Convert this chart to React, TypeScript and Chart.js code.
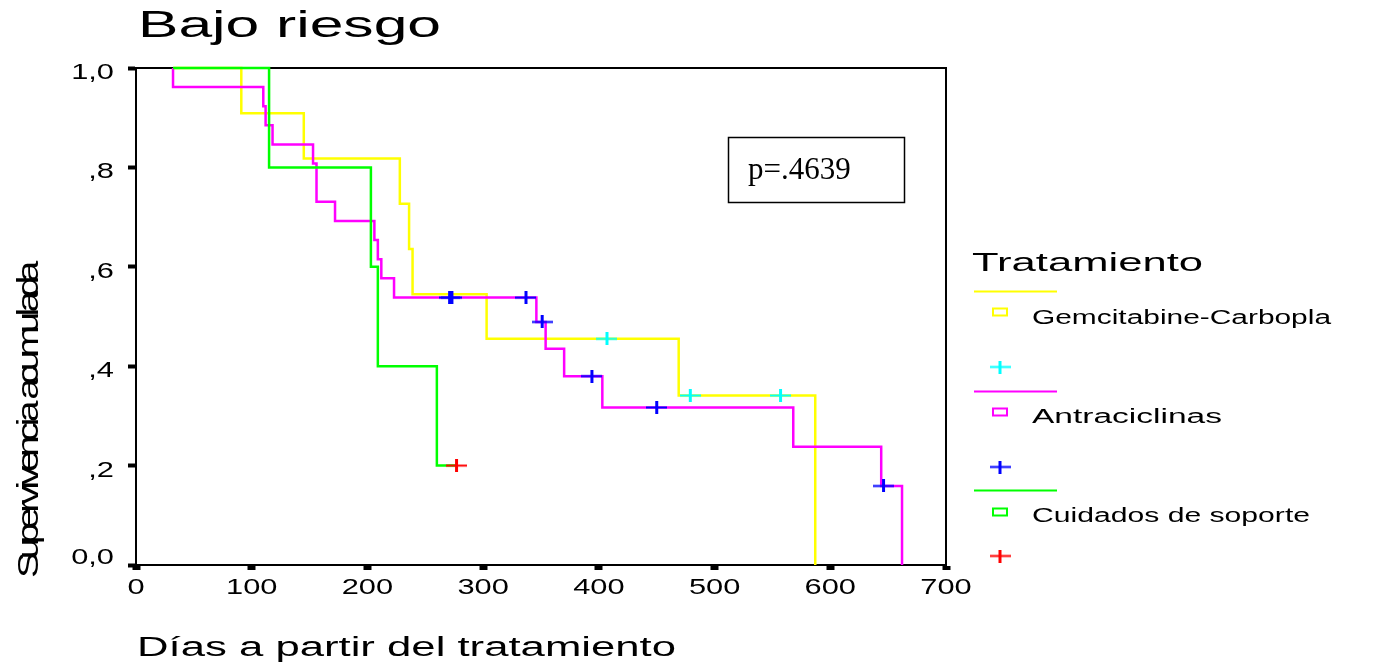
import React, { useEffect, useRef } from "react";
import { Chart, registerables } from "chart.js";

Chart.register(...registerables);

// ---------- texts ----------
const chartTitle = "Bajo riesgo";
const xAxisTitle = "Días a partir del tratamiento";
const yAxisTitle = "Supervivencia acumulada";
const legendTitle = "Tratamiento";
const groupNames = ["Gemcitabine-Carbopla", "Antraciclinas", "Cuidados de soporte"];
const pValueText = "p=.4639";

// ---------- ticks ----------
const xTickValues = [0, 100, 200, 300, 400, 500, 600, 700];
const xTickLabels = ["0", "100", "200", "300", "400", "500", "600", "700"];
const yTickValues = [0, 0.2, 0.4, 0.6, 0.8, 1.0];
const yTickLabels = ["0,0", ",2", ",4", ",6", ",8", "1,0"];

// ---------- Gemcitabine-Carboplatino ----------
const gemTimes = [32, 91, 145, 228, 236, 239, 303, 469, 587];
const gemSurv = [1.0, 0.909, 0.818, 0.727, 0.636, 0.545, 0.455, 0.341, 0.0];
const gemCensTimes = [407, 479, 557];
const gemCensSurv = [0.455, 0.341, 0.341];

// ---------- Antraciclinas ----------
const antTimes = [32, 32, 110, 112, 118, 153, 156, 172, 206, 209, 212, 223, 346, 354, 370, 403, 568, 644, 662];
const antSurv = [1.0, 0.962, 0.923, 0.885, 0.846, 0.808, 0.731, 0.692, 0.654, 0.615, 0.577, 0.538, 0.489, 0.435, 0.38, 0.317, 0.238, 0.159, 0.0];
const antCensTimes = [271, 273, 337, 351, 394, 450, 646];
const antCensSurv = [0.538, 0.538, 0.538, 0.489, 0.38, 0.317, 0.159];

// ---------- Cuidados de soporte ----------
const sopTimes = [32, 115, 203, 209, 260, 277];
const sopSurv = [1.0, 0.8, 0.6, 0.4, 0.2, 0.2];
const sopCensTimes = [277];
const sopCensSurv = [0.2];

const SANS = '"Liberation Sans", Arial, sans-serif';
const SERIF = '"Liberation Serif", "Times New Roman", serif';

const lineColors = ["#ffff00", "#ff00ff", "#00ff00"];
const censColors = ["#00ffff", "#0000ff", "#ff0000"];

function toPoints(xs: number[], ys: number[]) {
  return xs.map((x, i) => ({ x, y: ys[i] }));
}

function makeCross(color: string): HTMLCanvasElement {
  const c = document.createElement("canvas");
  c.width = 21;
  c.height = 13;
  const g = c.getContext("2d")!;
  g.fillStyle = color;
  g.fillRect(0, 5.5, 21, 2);
  g.fillRect(9, 0, 3, 13);
  return c;
}

function drawFitText(ctx: CanvasRenderingContext2D, text: string, left: number, baseline: number, px: number, targetWidth: number, family = SANS) {
  ctx.save();
  ctx.font = `${px}px ${family}`;
  const w = ctx.measureText(text).width;
  const sx = targetWidth / w;
  ctx.translate(left, baseline);
  ctx.scale(sx, 1);
  ctx.textAlign = "left";
  ctx.textBaseline = "alphabetic";
  ctx.fillStyle = "#000";
  ctx.fillText(text, 0, 0);
  ctx.restore();
}

function drawScaledText(ctx: CanvasRenderingContext2D, text: string, x: number, baseline: number, px: number, sx: number, align: "left" | "center" | "right") {
  ctx.save();
  ctx.font = `${px}px ${SANS}`;
  const w = ctx.measureText(text).width * sx;
  const left = align === "center" ? x - w / 2 : align === "right" ? x - w : x;
  ctx.translate(left, baseline);
  ctx.scale(sx, 1);
  ctx.textAlign = "left";
  ctx.textBaseline = "alphabetic";
  ctx.fillStyle = "#000";
  ctx.fillText(text, 0, 0);
  ctx.restore();
}

export default function App() {
  const ref = useRef<HTMLCanvasElement | null>(null);

  useEffect(() => {
    if (!ref.current) return;
    const crosses = censColors.map(makeCross);

    const decor = {
      id: "decor",
      beforeDatasetsDraw(chart: any) {
        const ctx: CanvasRenderingContext2D = chart.ctx;
        const { left, right, top, bottom } = chart.chartArea;
        ctx.save();
        ctx.strokeStyle = "#000";
        ctx.lineWidth = 2;
        ctx.beginPath();
        ctx.moveTo(left - 1, top);
        ctx.lineTo(right, top);
        ctx.lineTo(right, bottom + 1);
        ctx.stroke();
        ctx.restore();
      },
      afterDraw(chart: any) {
        const ctx: CanvasRenderingContext2D = chart.ctx;
        const xs = chart.scales.x;
        const ys = chart.scales.y;

        // title
        drawFitText(ctx, chartTitle, 138, 37, 37, 303);

        // x tick labels
        xTickValues.forEach((v, i) => {
          drawScaledText(ctx, xTickLabels[i], xs.getPixelForValue(v), 594, 22, 1.4, "center");
        });
        // y tick labels
        yTickValues.forEach((v, i) => {
          const off = v === 0 ? -9 : 3;
          drawScaledText(ctx, yTickLabels[i], 114, ys.getPixelForValue(v) + off + 8, 22, 1.4, "right");
        });

        // x axis title
        drawFitText(ctx, xAxisTitle, 137, 656, 27, 539);

        // y axis title (rotated, condensed)
        ctx.save();
        ctx.font = `29px ${SANS}`;
        ctx.fillStyle = "#000";
        ctx.translate(38, 574);
        ctx.rotate(-Math.PI / 2);
        const chars = Array.from(yAxisTitle);
        const advs = chars.map((c) => ctx.measureText(c).width);
        const A = advs.reduce((a, b) => a + b, 0);
        const k = 310 / A;
        const gsx = 1.35;
        let cum = 0;
        chars.forEach((c, i) => {
          const slot = advs[i] * k;
          const cx = cum + slot / 2;
          ctx.save();
          ctx.translate(cx - (advs[i] * gsx) / 2, 0);
          ctx.scale(gsx, 1);
          ctx.fillText(c, 0, 0);
          ctx.restore();
          cum += slot;
        });
        ctx.restore();

        // p-value box
        ctx.save();
        ctx.strokeStyle = "#000";
        ctx.lineWidth = 1.5;
        ctx.strokeRect(728.5, 137.5, 176, 65);
        ctx.fillStyle = "#000";
        ctx.font = `31px ${SERIF}`;
        ctx.textAlign = "left";
        ctx.textBaseline = "alphabetic";
        ctx.fillText(pValueText, 748, 179);
        ctx.restore();

        // legend
        drawFitText(ctx, legendTitle, 972, 271, 26, 231);
        const lineYs = [291.5, 391.5, 490.5];
        const sqYs = [312, 412, 512];
        const textYs = [324, 423, 522];
        const textWs = [299, 190, 278];
        const crossYs = [367, 467, 556];
        for (let i = 0; i < 3; i++) {
          ctx.save();
          ctx.strokeStyle = lineColors[i];
          ctx.lineWidth = 2;
          ctx.beginPath();
          ctx.moveTo(974, lineYs[i]);
          ctx.lineTo(1057, lineYs[i]);
          ctx.stroke();
          ctx.strokeRect(993, sqYs[i] - 3.5, 14, 7);
          ctx.restore();
          drawFitText(ctx, groupNames[i], 1032, textYs[i], 20, textWs[i]);
          ctx.drawImage(crosses[i], 1000 - 10.5, crossYs[i] - 6.5);
        }
      },
    };

    const curve = (times: number[], surv: number[], color: string, order: number) => ({
      data: toPoints(times, surv),
      showLine: true,
      stepped: "before" as const,
      borderColor: color,
      backgroundColor: color,
      borderWidth: 2.5,
      pointRadius: 0,
      fill: false,
      clip: false as const,
      order,
    });
    const cens = (times: number[], surv: number[], img: HTMLCanvasElement) => ({
      data: toPoints(times, surv),
      showLine: false,
      pointStyle: img,
      pointRadius: 7,
      borderColor: "transparent",
      backgroundColor: "transparent",
      clip: false as const,
      order: -1,
    });

    const chart = new Chart(ref.current, {
      type: "scatter",
      data: {
        datasets: [
          curve(gemTimes, gemSurv, lineColors[0], 3),
          curve(antTimes, antSurv, lineColors[1], 2),
          curve(sopTimes, sopSurv, lineColors[2], 1),
          cens(gemCensTimes, gemCensSurv, crosses[0]),
          cens(antCensTimes, antCensSurv, crosses[1]),
          cens(sopCensTimes, sopCensSurv, crosses[2]),
        ] as any,
      },
      options: {
        animation: false,
        responsive: false,
        events: [],
        layout: { padding: { left: 0, top: 68, right: 431, bottom: 0 } },
        plugins: {
          legend: { display: false },
          tooltip: { enabled: false },
          title: { display: false },
        },
        scales: {
          x: {
            type: "linear",
            min: 0,
            max: 700,
            afterBuildTicks: (s: any) => {
              s.ticks = xTickValues.map((v) => ({ value: v }));
            },
            afterFit: (s: any) => {
              s.height = 101;
            },
            ticks: { color: "rgba(0,0,0,0)", font: { size: 21, family: SANS } },
            grid: { drawOnChartArea: false, drawTicks: true, tickLength: 5, tickWidth: 8, tickColor: "#000", color: "#000" },
            border: { display: true, color: "#000", width: 2 },
          },
          y: {
            type: "linear",
            min: 0,
            max: 1,
            afterBuildTicks: (s: any) => {
              s.ticks = yTickValues.map((v) => ({ value: v }));
            },
            afterFit: (s: any) => {
              s.width = 136;
            },
            ticks: { color: "rgba(0,0,0,0)", font: { size: 21, family: SANS } },
            grid: { drawOnChartArea: false, drawTicks: true, tickLength: 8, tickWidth: 4, tickColor: "#000", color: "#000" },
            border: { display: true, color: "#000", width: 2 },
          },
        },
      } as any,
      plugins: [decor],
    });
    return () => chart.destroy();
  }, []);

  return (
    <div style={{ position: "absolute", left: 0, top: 0, width: 1377, height: 666, background: "#fff" }}>
      <canvas ref={ref} width={1377} height={666} style={{ display: "block" }} />
    </div>
  );
}
